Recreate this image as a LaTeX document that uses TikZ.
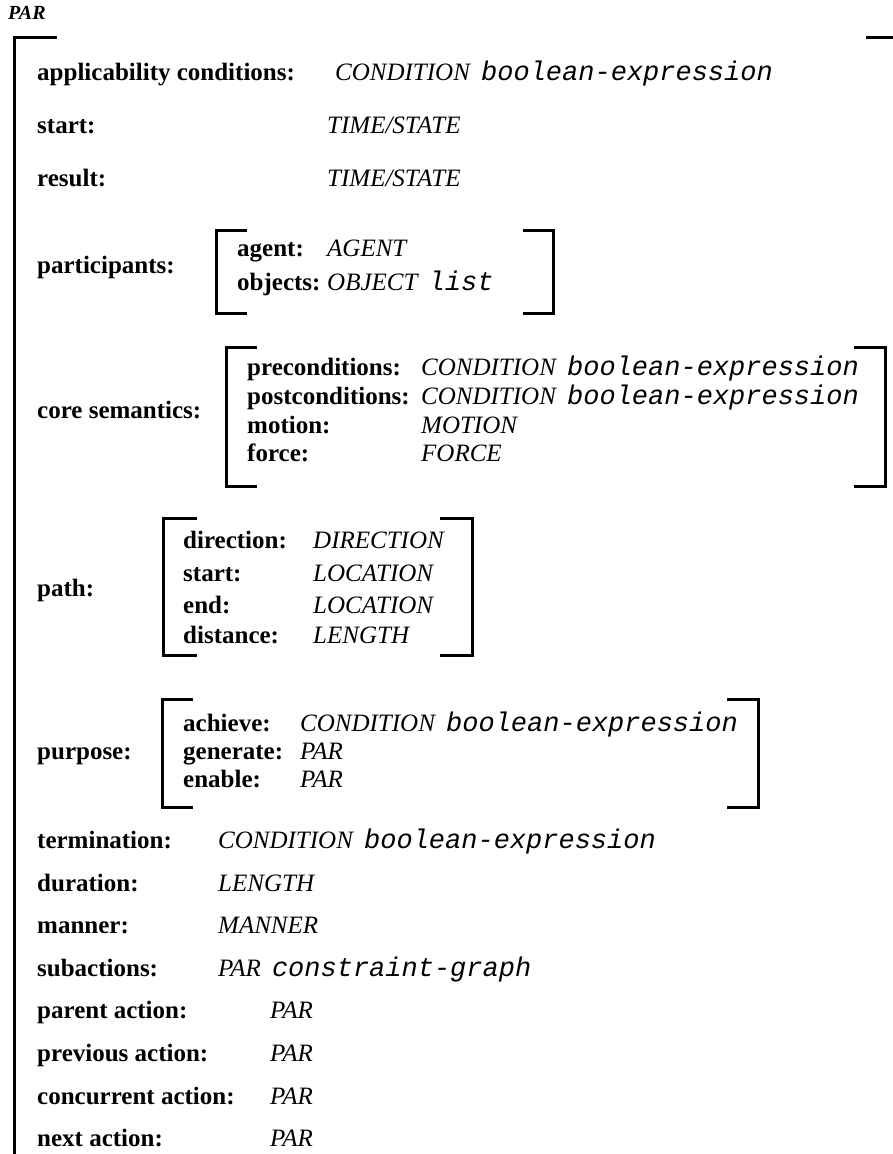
\documentclass[tikz,border=0pt]{standalone}
\usepackage{fontspec}
\setmainfont{Liberation Serif}
\setmonofont[Scale=1.08]{Liberation Mono}
\newcommand\monoit[1]{{\ttfamily\itshape #1}}
\newcommand\gapsp{\hspace{0.45em}}
\tikzset{
  lab/.style={anchor=west, inner sep=0pt, font=\fontsize{25}{30}\selectfont\bfseries, text height=17pt, text depth=5pt},
  val/.style={anchor=west, inner sep=0pt, font=\fontsize{25}{30}\selectfont\itshape, text height=17pt, text depth=5pt},
  ttl/.style={anchor=west, inner sep=0pt, font=\fontsize{20}{24}\selectfont\bfseries\itshape},
  brk/.style={line width=3pt, line join=miter, line cap=butt}
}
\begin{document}
\begin{tikzpicture}[x=1pt,y=-1pt]
\useasboundingbox[fill=white] (0,0) rectangle (893,1154);
% title
\node[ttl] (title) at (8,13) {PAR};
% outer bracket
\draw[brk] (57,37) -- (14,37) -- (14,1160);
\draw[brk] (866,37) -- (893,37);
% simple rows
\node[lab] (l1) at (37,74) {applicability conditions:};
\node[val] (v1) at (335,74) {CONDITION\gapsp\monoit{boolean-expression}};
\node[lab] (l2) at (37,127) {start:};
\node[val] (v2) at (327,127) {TIME/STATE};
\node[lab] (l3) at (37,180) {result:};
\node[val] (v3) at (327,180) {TIME/STATE};
% participants
\node[lab] (l4) at (37,267) {participants:};
\draw[brk] (247,230) -- (216,230) -- (216,313) -- (247,313);
\draw[brk] (523,230) -- (553,230) -- (553,313) -- (523,313);
\node[lab] (pa1) at (237,250) {agent:};
\node[val] (pv1) at (327,250) {AGENT};
\node[lab] (pa2) at (237,284) {objects:};
\node[val] (pv2) at (327,284) {OBJECT\gapsp\monoit{list}};
% core semantics
\node[lab] (l5) at (37,412) {core semantics:};
\draw[brk] (257,347) -- (226,347) -- (226,486) -- (257,486);
\draw[brk] (854,347) -- (885,347) -- (885,486) -- (854,486);
\node[lab] (ca1) at (247,369) {preconditions:};
\node[val] (cv1) at (421,369) {CONDITION\gapsp\monoit{boolean-expression}};
\node[lab] (ca2) at (247,398) {postconditions:};
\node[val] (cv2) at (421,398) {CONDITION\gapsp\monoit{boolean-expression}};
\node[lab] (ca3) at (247,427) {motion:};
\node[val] (cv3) at (421,427) {MOTION};
\node[lab] (ca4) at (247,455) {force:};
\node[val] (cv4) at (421,455) {FORCE};
% path
\node[lab] (l6) at (37,590) {path:};
\draw[brk] (197,518) -- (163,518) -- (163,655) -- (197,655);
\draw[brk] (440,518) -- (472,518) -- (472,655) -- (440,655);
\node[lab] (ha1) at (183,542) {direction:};
\node[val] (hv1) at (313,542) {DIRECTION};
\node[lab] (ha2) at (183,575) {start:};
\node[val] (hv2) at (313,575) {LOCATION};
\node[lab] (ha3) at (183,607) {end:};
\node[val] (hv3) at (313,607) {LOCATION};
\node[lab] (ha4) at (183,637) {distance:};
\node[val] (hv4) at (313,637) {LENGTH};
% purpose
\node[lab] (l7) at (37,753) {purpose:};
\draw[brk] (193,699) -- (162,699) -- (162,807) -- (193,807);
\draw[brk] (727,699) -- (758,699) -- (758,807) -- (727,807);
\node[lab] (ua1) at (183,725) {achieve:};
\node[val] (uv1) at (300,725) {CONDITION\gapsp\monoit{boolean-expression}};
\node[lab] (ua2) at (183,753) {generate:};
\node[val] (uv2) at (300,753) {PAR};
\node[lab] (ua3) at (183,781) {enable:};
\node[val] (uv3) at (300,781) {PAR};
% lower rows
\node[lab] (l8) at (37,842) {termination:};
\node[val] (v8) at (218,842) {CONDITION\gapsp\monoit{boolean-expression}};
\node[lab] (l9) at (37,885) {duration:};
\node[val] (v9) at (218,885) {LENGTH};
\node[lab] (l10) at (37,927) {manner:};
\node[val] (v10) at (218,927) {MANNER};
\node[lab] (l11) at (37,970) {subactions:};
\node[val] (v11) at (218,970) {PAR\gapsp\monoit{constraint-graph}};
\node[lab] (l12) at (37,1012) {parent action:};
\node[val] (v12) at (270,1012) {PAR};
\node[lab] (l13) at (37,1055) {previous action:};
\node[val] (v13) at (270,1055) {PAR};
\node[lab] (l14) at (37,1098) {concurrent action:};
\node[val] (v14) at (270,1098) {PAR};
\node[lab] (l15) at (37,1140) {next action:};
\node[val] (v15) at (270,1140) {PAR};
\end{tikzpicture}
\end{document}
